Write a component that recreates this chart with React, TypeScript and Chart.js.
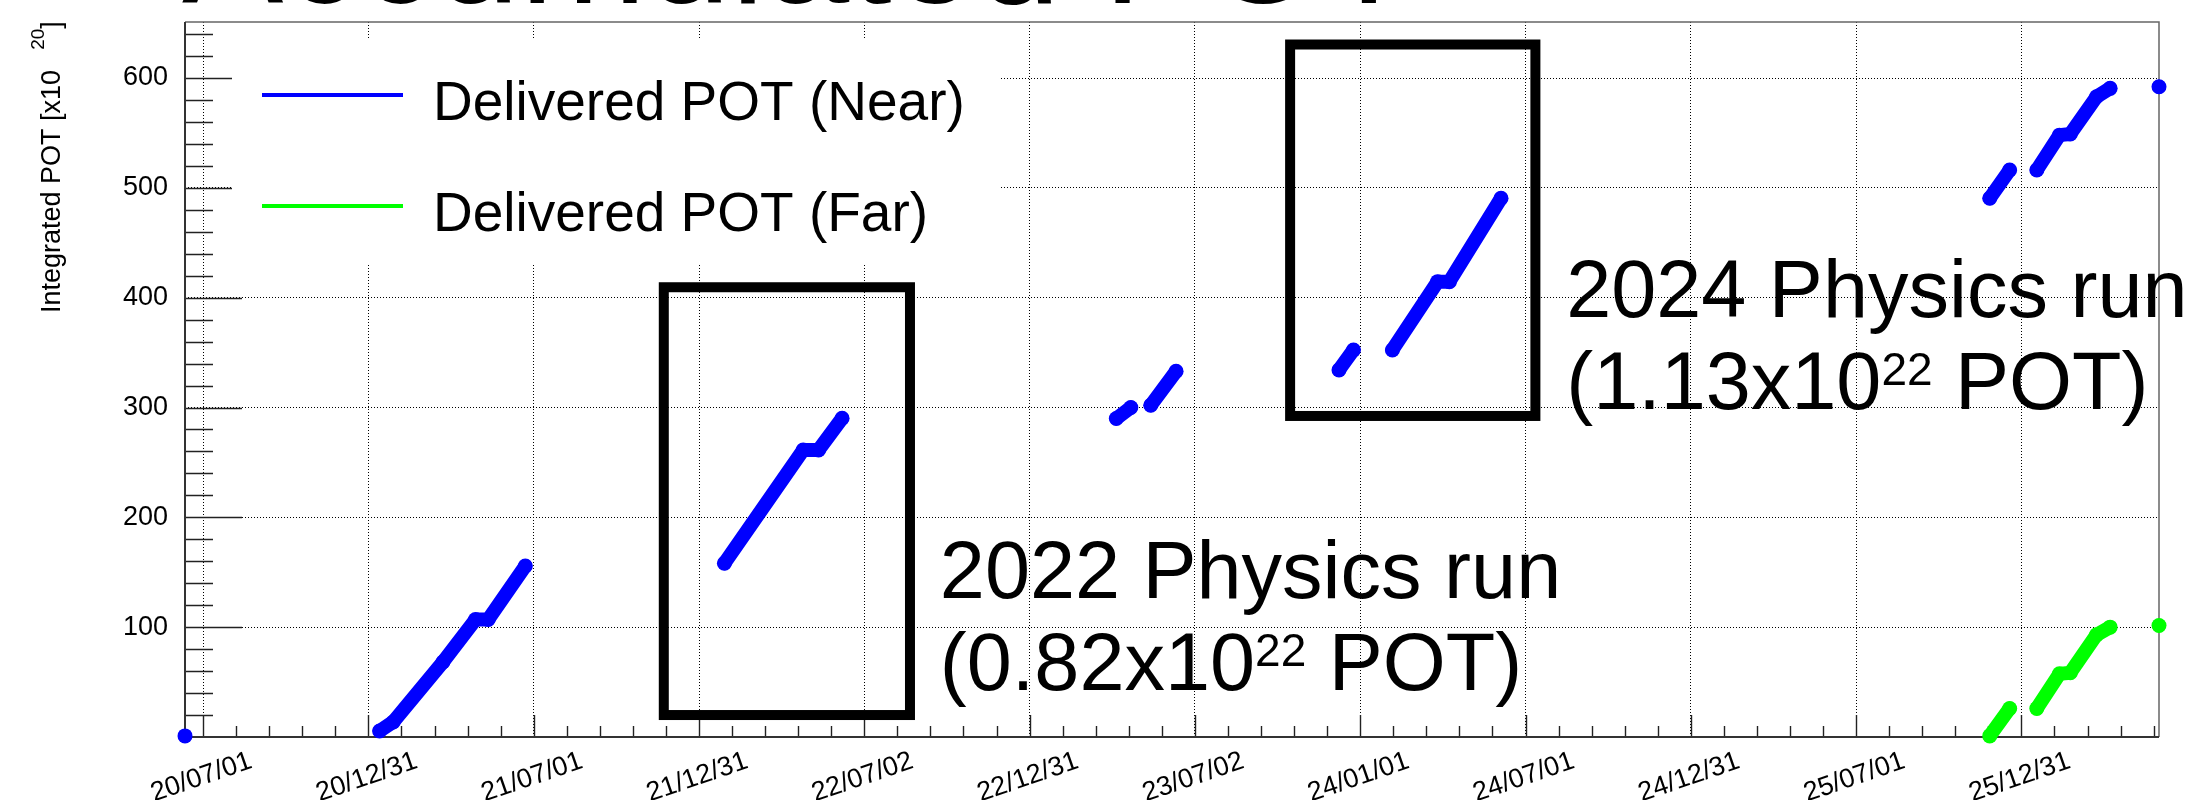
import { useEffect, useRef } from 'react';
import { Chart, registerables } from 'chart.js';

Chart.register(...registerables);

// ---------- data ----------
const xTickLabels = ['20/07/01', '20/12/31', '21/07/01', '21/12/31', '22/07/02', '22/12/31', '23/07/02', '24/01/01', '24/07/01', '24/12/31', '25/07/01', '25/12/31'];
const xTickFirst = '2020-07-01';
const xTickLast = '2025-12-31';
const yTickValues = [0, 100, 200, 300, 400, 500, 600];

const nearDates = [
  '2020-06-11', null,
  '2021-01-12', '2021-01-27', '2021-03-23', '2021-04-28', '2021-05-12', '2021-06-22', null,
  '2022-01-28', '2022-04-25', '2022-05-12', '2022-06-07', null,
  '2023-04-06', '2023-04-22', null,
  '2023-05-14', '2023-06-11', null,
  '2023-12-08', '2023-12-24', null,
  '2024-02-05', '2024-03-26', '2024-04-08', '2024-06-04', null,
  '2025-11-26', '2025-12-18', null,
  '2026-01-17', '2026-02-11', '2026-02-23', '2026-03-24', '2026-04-08', null,
  '2026-06-01',
];
const nearPot = [
  1, null,
  5.5, 13.7, 68.3, 107, 107, 155.7, null,
  158.2, 261.3, 261.3, 290.2, null,
  290, 300, null,
  302, 333, null,
  334.2, 352.4, null,
  352.4, 414.6, 414.6, 490.5, null,
  490.5, 516.3, null,
  516.3, 548, 549, 583, 590.6, null,
  592,
];

const farDates = [
  '2025-11-26', '2025-12-18', null,
  '2026-01-17', '2026-02-11', '2026-02-23', '2026-03-24', '2026-04-08', null,
  '2026-06-01',
];
const farPot = [
  1, 26, null,
  26, 57.5, 58.5, 93, 100, null,
  101.5,
];

const runBoxes = [
  { from: '2021-11-22', to: '2022-08-21', low: 20, high: 409.5 },
  { from: '2023-10-15', to: '2024-07-12', low: 292.3, high: 630.5 },
];
const runNotes = [
  { at: '2022-09-23', pot: 126.3, title: '2022 Physics run', amount: '(0.82x10', exp: '22', unit: ' POT)' },
  { at: '2024-08-15', pot: 382.7, title: '2024 Physics run', amount: '(1.13x10', exp: '22', unit: ' POT)' },
];

// ---------- helpers ----------
const FONT = '"Liberation Sans", Arial, Helvetica, sans-serif';
const DAY = 86400000;
const ORIGIN = Date.parse(xTickFirst + 'T00:00:00Z');
const toDay = (s: string) => (Date.parse(s + 'T00:00:00Z') - ORIGIN) / DAY;
const TICK_STEP = (toDay(xTickLast) - toDay(xTickFirst)) / (xTickLabels.length - 1);

function buildSeries(dates: (string | null)[], pots: (number | null)[]) {
  let last = 0;
  return dates.map((d, i) => {
    if (d === null || pots[i] === null) return { x: last, y: null as any };
    last = toDay(d);
    return { x: last, y: pots[i] as number };
  });
}

const allDays = [...nearDates, ...farDates].filter((d) => d !== null).map((d) => toDay(d as string));
const xMin = Math.min(...allDays);
const xMax = Math.max(...allDays);

const zeroPadding = (s: any) => {
  s.paddingTop = 0;
  s.paddingBottom = 0;
  s.paddingLeft = 0;
  s.paddingRight = 0;
};

const rootPlugin = {
  id: 'rootStyle',
  beforeDatasetsDraw(chart: any) {
    const { ctx, chartArea: ca, scales } = chart;
    const xs = scales.x;
    const ys = scales.y;
    ctx.save();
    ctx.strokeStyle = '#222';
    ctx.lineWidth = 1.4;
    ctx.beginPath();
    const kMax = Math.ceil(xMax / (TICK_STEP / 5)) + 1;
    for (let k = Math.floor(xMin / (TICK_STEP / 5)) - 1; k <= kMax; k++) {
      const v = (k * TICK_STEP) / 5;
      if (v < xs.min || v > xs.max) continue;
      const px = Math.round(xs.getPixelForValue(v)) + 0.5;
      const len = k % 5 === 0 ? 22 : 11;
      ctx.moveTo(px, ca.bottom);
      ctx.lineTo(px, ca.bottom - len);
    }
    for (let v = 20; v <= ys.max; v += 20) {
      const py = Math.round(ys.getPixelForValue(v)) + 0.5;
      const len = v % 100 === 0 ? 57 : 28;
      ctx.moveTo(ca.left, py);
      ctx.lineTo(ca.left + len, py);
    }
    ctx.stroke();
    // frame
    ctx.strokeStyle = '#666';
    ctx.lineWidth = 1.5;
    ctx.beginPath();
    ctx.moveTo(ca.left, ca.top);
    ctx.lineTo(ca.right, ca.top);
    ctx.lineTo(ca.right, ca.bottom);
    ctx.stroke();
    ctx.strokeStyle = '#333';
    ctx.lineWidth = 2;
    ctx.beginPath();
    ctx.moveTo(ca.left, ca.top);
    ctx.lineTo(ca.left, ca.bottom);
    ctx.lineTo(ca.right, ca.bottom);
    ctx.stroke();
    ctx.restore();
  },
  afterDatasetsDraw(chart: any) {
    const { ctx, chartArea: ca, scales } = chart;
    const xs = scales.x;
    const ys = scales.y;
    ctx.save();
    // run boxes
    ctx.strokeStyle = '#000';
    ctx.lineWidth = 10;
    ctx.lineJoin = 'miter';
    for (const b of runBoxes) {
      const x1 = xs.getPixelForValue(toDay(b.from));
      const x2 = xs.getPixelForValue(toDay(b.to));
      const y1 = ys.getPixelForValue(b.high);
      const y2 = ys.getPixelForValue(b.low);
      ctx.strokeRect(x1, y1, x2 - x1, y2 - y1);
    }
    // run notes
    ctx.fillStyle = '#000';
    ctx.textAlign = 'left';
    ctx.textBaseline = 'alphabetic';
    for (const n of runNotes) {
      const x = xs.getPixelForValue(toDay(n.at));
      const y = ys.getPixelForValue(n.pot);
      ctx.font = `81px ${FONT}`;
      ctx.fillText(n.title, x, y);
      const y2 = y + 92;
      ctx.fillText(n.amount, x, y2);
      let cx = x + ctx.measureText(n.amount).width;
      ctx.font = `46px ${FONT}`;
      ctx.fillText(n.exp, cx, y2 - 24);
      cx += ctx.measureText(n.exp).width;
      ctx.font = `81px ${FONT}`;
      ctx.fillText(n.unit, cx, y2);
    }
    // legend
    const lx = ca.left + 47;
    const ly = ca.top + 16;
    ctx.fillStyle = '#fff';
    ctx.fillRect(lx, ly, 768, 227);
    chart.data.datasets.forEach((ds: any, i: number) => {
      const cy = ly + 57 + i * 111;
      ctx.strokeStyle = ds.borderColor;
      ctx.lineWidth = 4;
      ctx.beginPath();
      ctx.moveTo(lx + 30, cy);
      ctx.lineTo(lx + 171, cy);
      ctx.stroke();
      ctx.fillStyle = '#000';
      ctx.font = `55px ${FONT}`;
      ctx.fillText(ds.label, lx + 201, cy + 25);
    });
    // main title (mostly above the canvas)
    ctx.fillStyle = '#000';
    ctx.font = `152px ${FONT}`;
    ctx.fillText('Accumulated POT', 182, 3);
    // y axis title
    ctx.save();
    ctx.translate(ca.left - 125, ca.top + 291);
    ctx.rotate(-Math.PI / 2);
    ctx.font = `27px ${FONT}`;
    const main = 'Integrated POT [x10';
    ctx.fillText(main, 0, 0);
    let u = ctx.measureText(main).width + 20;
    ctx.font = `19px ${FONT}`;
    ctx.fillText('20', u, -16);
    u += ctx.measureText('20').width;
    ctx.font = `27px ${FONT}`;
    ctx.fillText(']', u, 0);
    ctx.restore();
    ctx.restore();
  },
};

export default function App() {
  const ref = useRef<HTMLCanvasElement | null>(null);
  useEffect(() => {
    if (!ref.current) return;
    const tickFont = { family: FONT, size: 27 };
    const chart = new Chart(ref.current, {
      type: 'scatter',
      data: {
        datasets: [
          {
            label: 'Delivered POT (Near)',
            data: buildSeries(nearDates, nearPot),
            borderColor: '#0000ff',
            backgroundColor: '#0000ff',
            borderWidth: 14,
            pointRadius: 7.5,
            pointBorderWidth: 0,
            showLine: true,
            spanGaps: false,
            borderCapStyle: 'round',
            borderJoinStyle: 'round',
            clip: 14,
          } as any,
          {
            label: 'Delivered POT (Far)',
            data: buildSeries(farDates, farPot),
            borderColor: '#00ff00',
            backgroundColor: '#00ff00',
            borderWidth: 14,
            pointRadius: 7.5,
            pointBorderWidth: 0,
            showLine: true,
            spanGaps: false,
            borderCapStyle: 'round',
            borderJoinStyle: 'round',
            clip: 14,
          } as any,
        ],
      },
      options: {
        animation: false,
        responsive: true,
        maintainAspectRatio: false,
        layout: { padding: { top: 22, right: 39, left: 0, bottom: 0 } },
        plugins: { legend: { display: false }, tooltip: { enabled: false }, title: { display: false } },
        events: [],
        scales: {
          x: {
            type: 'linear',
            min: xMin,
            max: xMax,
            afterBuildTicks: (s: any) => {
              s.ticks = xTickLabels.map((_, i) => ({ value: i * TICK_STEP }));
            },
            afterFit: (s: any) => {
              s.height = 63;
              zeroPadding(s);
            },
            ticks: {
              autoSkip: false,
              minRotation: 19,
              maxRotation: 19,
              labelOffset: 48,
              padding: 8,
              font: tickFont,
              color: '#000',
              callback: (_v: any, i: number) => xTickLabels[i],
            },
            grid: { color: '#000', lineWidth: 1, drawTicks: false },
            border: { display: false, dash: [1, 2] },
          } as any,
          y: {
            type: 'linear',
            min: 0,
            max: 651,
            afterBuildTicks: (s: any) => {
              s.ticks = yTickValues.map((v) => ({ value: v }));
            },
            afterFit: (s: any) => {
              s.width = 185;
              zeroPadding(s);
            },
            ticks: {
              padding: 17,
              font: tickFont,
              color: '#000',
              callback: (v: any) => (v === 0 ? '' : String(v)),
            },
            grid: {
              color: (c: any) => (c.tick && c.tick.value === 0 ? 'rgba(0,0,0,0)' : '#000'),
              lineWidth: 1,
              drawTicks: false,
            },
            border: { display: false, dash: [1, 2] },
          } as any,
        },
      },
      plugins: [rootPlugin],
    });
    return () => chart.destroy();
  }, []);
  return (
    <div style={{ position: 'fixed', left: 0, top: 0, width: 2198, height: 800, background: '#fff' }}>
      <canvas ref={ref} />
    </div>
  );
}
